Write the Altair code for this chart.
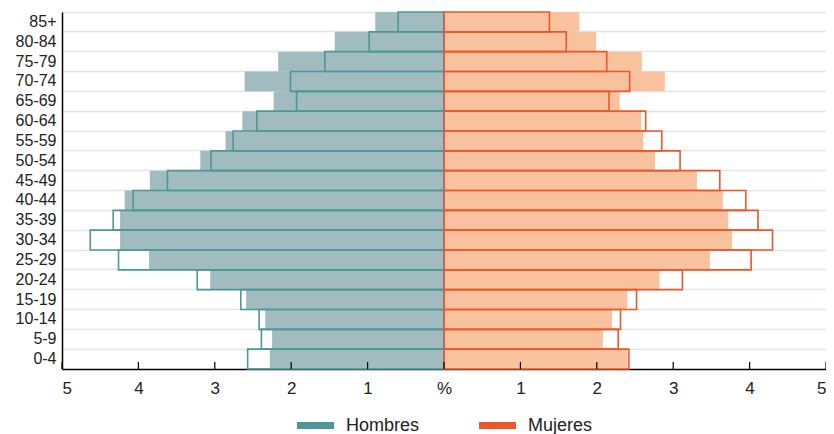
import altair as alt
import pandas as pd

ages = ["0-4", "5-9", "10-14", "15-19", "20-24", "25-29", "30-34", "35-39", "40-44",
        "45-49", "50-54", "55-59", "60-64", "65-69", "70-74", "75-79", "80-84", "85+"]

men_fill = [2.28, 2.25, 2.34, 2.59, 3.06, 3.86, 4.24, 4.24, 4.18,
            3.85, 3.19, 2.86, 2.64, 2.23, 2.61, 2.17, 1.43, 0.90]
men_outline = [2.57, 2.39, 2.42, 2.66, 3.23, 4.26, 4.63, 4.33, 4.07,
               3.62, 3.05, 2.76, 2.45, 1.93, 2.01, 1.56, 0.98, 0.60]
women_fill = [2.40, 2.08, 2.20, 2.40, 2.82, 3.48, 3.77, 3.72, 3.65,
              3.31, 2.76, 2.61, 2.58, 2.30, 2.89, 2.59, 1.99, 1.77]
women_outline = [2.42, 2.28, 2.31, 2.52, 3.12, 4.02, 4.30, 4.11, 3.95,
                 3.61, 3.09, 2.85, 2.64, 2.16, 2.43, 2.13, 1.60, 1.38]

sexes = ["Hombres", "Mujeres"]
fill_colors = ["#a0bcbf", "#f8c29f"]
stroke_colors = ["#4e9698", "#e9582a"]
tick_values = [-5, -4, -3, -2, -1, 0, 1, 2, 3, 4, 5]

rows = []
for i, a in enumerate(ages):
    rows.append({"age": a, "sexo": "Hombres", "tipo": "fill", "valor": -men_fill[i]})
    rows.append({"age": a, "sexo": "Hombres", "tipo": "outline", "valor": -men_outline[i]})
for i, a in enumerate(ages):
    rows.append({"age": a, "sexo": "Mujeres", "tipo": "fill", "valor": women_fill[i]})
    rows.append({"age": a, "sexo": "Mujeres", "tipo": "outline", "valor": women_outline[i]})
df = pd.DataFrame(rows)

FONT = "Liberation Sans"

xscale = alt.Scale(domain=[-5, 5], nice=False, zero=True)
xaxis = alt.Axis(title=None, values=tick_values,
                 labelExpr="datum.value == 0 ? '%' : abs(datum.value)",
                 ticks=False, grid=False, domainColor="#000000", domainWidth=1.5,
                 labelFontSize=17, labelPadding=11, labelColor="#222222", labelFont=FONT)
y = alt.Y("age:N", sort=list(reversed(ages)),
          scale=alt.Scale(paddingInner=0, paddingOuter=0),
          axis=alt.Axis(title=None, grid=True, bandPosition=0, gridColor="#dfe6e6",
                        gridWidth=1.5, ticks=False, domainColor="#000000", domainWidth=1.5,
                        labelFontSize=16, labelColor="#222222", labelPadding=6, labelFont=FONT))

base = alt.Chart(df)

fills = base.transform_filter("datum.tipo == 'fill'").mark_bar().encode(
    x=alt.X("valor:Q", scale=xscale, axis=xaxis),
    y=y,
    fill=alt.Fill("sexo:N", scale=alt.Scale(domain=sexes, range=fill_colors), legend=None),
)

outlines = base.transform_filter("datum.tipo == 'outline'").mark_bar(
    fillOpacity=0, strokeWidth=1.6
).encode(
    x=alt.X("valor:Q", scale=xscale, axis=xaxis),
    y=y,
    stroke=alt.Stroke("sexo:N", scale=alt.Scale(domain=sexes, range=stroke_colors), legend=None),
)

tickdf = pd.DataFrame({"t": tick_values})
tickrules = alt.Chart(tickdf).mark_rule(color="#000000", strokeWidth=1.2).encode(
    x=alt.X("t:Q", scale=xscale, axis=xaxis),
    y=alt.value(350),
    y2=alt.value(357),
)

# legend drawn as guide marks below the axis
legend_left = [235, 417]
legend_parts = []
for i, s in enumerate(sexes):
    ldf = pd.DataFrame({"sexo": [s]})
    legend_parts.append(
        alt.Chart(ldf).mark_rect(color=stroke_colors[i]).encode(
            x=alt.value(legend_left[i]), x2=alt.value(legend_left[i] + 37),
            y=alt.value(410), y2=alt.value(417),
        )
    )
    legend_parts.append(
        alt.Chart(ldf).mark_text(align="left", baseline="middle", fontSize=18,
                                 font=FONT, color="#222222").encode(
            x=alt.value(legend_left[i] + 49), y=alt.value(414), text="sexo:N",
        )
    )

chart = alt.layer(fills, outlines, tickrules, *legend_parts).properties(
    width=764, height=357,
    autosize=alt.AutoSizeParams(type="none"),
    padding={"left": 54, "top": 4, "right": 0, "bottom": 65},
).configure_view(stroke=None)

chart.save("out.html", embed_options={"renderer": "svg", "actions": False})
